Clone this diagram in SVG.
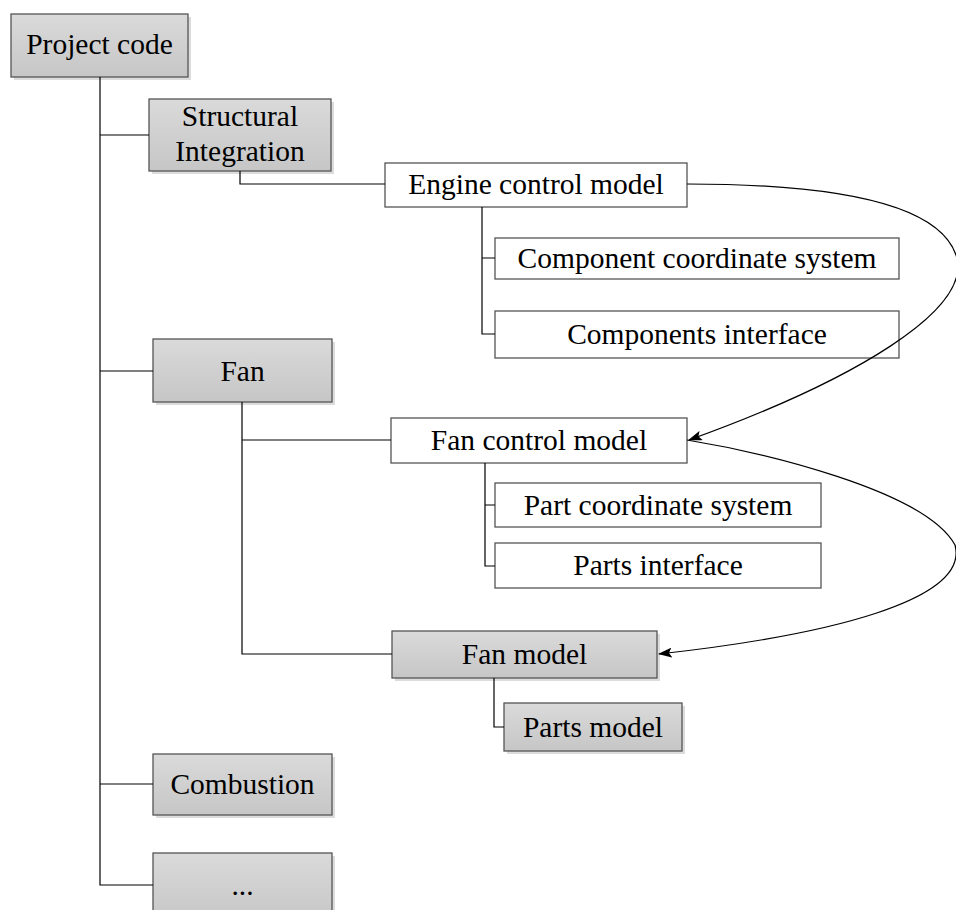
<svg xmlns="http://www.w3.org/2000/svg" width="956" height="910" viewBox="0 0 956 910">
  <defs>
    <linearGradient id="greyFill" x1="0" y1="0" x2="0" y2="1">
      <stop offset="0" stop-color="#dadada"/>
      <stop offset="1" stop-color="#c6c6c6"/>
    </linearGradient>
    <marker id="arrow" viewBox="0 0 14 10" refX="13" refY="5" markerWidth="14" markerHeight="10" markerUnits="userSpaceOnUse" orient="auto">
      <path d="M0,0 L14,5 L0,10 L3,5 Z" fill="#000"/>
    </marker>
  </defs>
  <style>
    .shadow { fill: #dcdcdc; }
    .grey { fill: url(#greyFill); stroke: #555; stroke-width: 1.3; }
    .white { fill: #fff; stroke: #555; stroke-width: 1.3; }
    .label { font-family: "Liberation Serif", "Times New Roman", serif; font-size: 29.5px; fill: #000; text-anchor: middle; }
    .conn { fill: none; stroke: #000; stroke-width: 1.2; }
    .flow { fill: none; stroke: #000; stroke-width: 1.2; marker-end: url(#arrow); }
  </style>

  <rect width="956" height="910" fill="#fff"/>

  <g id="project-code">
    <rect class="shadow" x="14" y="17" width="177" height="63"/>
    <rect class="grey" x="11" y="14" width="177" height="63"/>
    <text class="label" x="99.5" y="54">Project code</text>
  </g>

  <g id="structural-integration">
    <rect class="shadow" x="152" y="102" width="182" height="72"/>
    <rect class="grey" x="149" y="99" width="182" height="72"/>
    <text class="label" x="240" y="126">Structural</text>
    <text class="label" x="240" y="161">Integration</text>
  </g>

  <g id="engine-control-model">
    <rect class="white" x="385" y="163" width="302" height="44"/>
    <text class="label" x="536" y="194">Engine control model</text>
  </g>

  <g id="component-coordinate-system">
    <rect class="white" x="495" y="238" width="404" height="41"/>
    <text class="label" x="697" y="268">Component coordinate system</text>
  </g>

  <g id="components-interface">
    <rect class="white" x="495" y="311" width="404" height="47"/>
    <text class="label" x="697" y="344">Components interface</text>
  </g>

  <g id="fan">
    <rect class="shadow" x="156" y="342" width="179" height="63"/>
    <rect class="grey" x="153" y="339" width="179" height="63"/>
    <text class="label" x="242.5" y="381">Fan</text>
  </g>

  <g id="fan-control-model">
    <rect class="white" x="391" y="418" width="296" height="45"/>
    <text class="label" x="539" y="450">Fan control model</text>
  </g>

  <g id="part-coordinate-system">
    <rect class="white" x="495" y="483" width="326" height="44"/>
    <text class="label" x="658" y="515">Part coordinate system</text>
  </g>

  <g id="parts-interface">
    <rect class="white" x="495" y="543" width="326" height="45"/>
    <text class="label" x="658" y="575">Parts interface</text>
  </g>

  <g id="fan-model">
    <rect class="shadow" x="395" y="634" width="265" height="47"/>
    <rect class="grey" x="392" y="631" width="265" height="47"/>
    <text class="label" x="524.5" y="664">Fan model</text>
  </g>

  <g id="parts-model">
    <rect class="shadow" x="507" y="706" width="178" height="48"/>
    <rect class="grey" x="504" y="703" width="178" height="48"/>
    <text class="label" x="593" y="737">Parts model</text>
  </g>

  <g id="combustion">
    <rect class="shadow" x="156" y="757" width="179" height="61"/>
    <rect class="grey" x="153" y="754" width="179" height="61"/>
    <text class="label" x="242.5" y="794">Combustion</text>
  </g>

  <g id="more">
    <rect class="shadow" x="156" y="856" width="179" height="70"/>
    <rect class="grey" x="153" y="853" width="179" height="70"/>
    <text class="label" x="242.5" y="895">...</text>
  </g>

  <!-- tree connectors, then the flow arrows drawn over the boxes -->
  <g id="connectors">
    <path class="conn" d="M100,77 V885 H153"/>
    <path class="conn" d="M100,135 H149"/>
    <path class="conn" d="M100,371 H153"/>
    <path class="conn" d="M100,784 H153"/>
    <path class="conn" d="M240,171 V184 H385"/>
    <path class="conn" d="M482,207 V334 H495 M482,258 H495"/>
    <path class="conn" d="M242,402 V654 H392 M242,440 H391"/>
    <path class="conn" d="M485,463 V566 H495 M485,505 H495"/>
    <path class="conn" d="M494,678 V727 H504"/>
    <path class="flow" d="M687,184 C820,184 937,200 956,255 C975,310 850,382 689,440"/>
    <path class="flow" d="M687,440 C760,452 925,490 955,545 C970,600 830,635 659,654"/>
  </g>
</svg>
